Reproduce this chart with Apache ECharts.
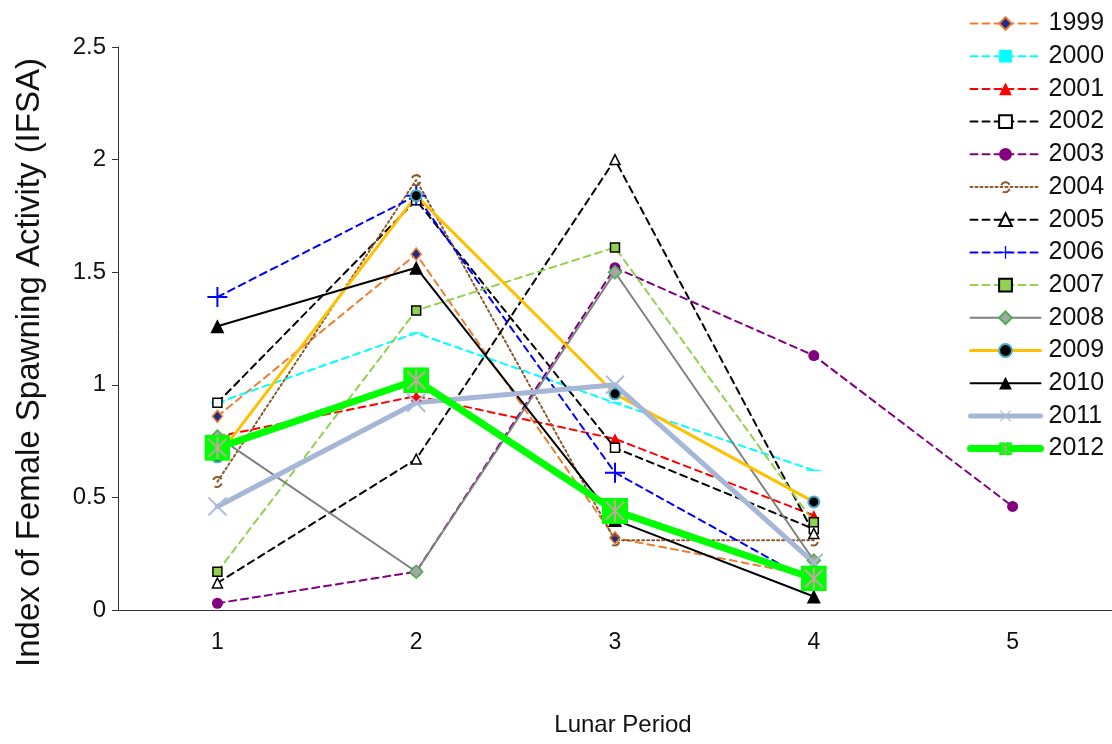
<!DOCTYPE html>
<html>
<head>
<meta charset="utf-8">
<script src="https://cdn.jsdelivr.net/npm/echarts@6/dist/echarts.min.js"></script>
<style>
  html, body { margin: 0; padding: 0; background: #fff; }
  #chart { width: 1112px; height: 744px; }
</style>
</head>
<body>
<div id="chart"></div>
<script>
// 数据
const periods = ['1', '2', '3', '4', '5']
const yTicks = [0, 0.5, 1, 1.5, 2, 2.5]
const years = ['1999', '2000', '2001', '2002', '2003', '2004', '2005',
  '2006', '2007', '2008', '2009', '2010', '2011', '2012']

const ifsa1999 = [0.86, 1.58, 0.32, 0.15, null]
const ifsa2000 = [0.92, 1.23, 0.92, 0.62, null]
const ifsa2001 = [0.77, 0.95, 0.76, 0.42, null]
const ifsa2002 = [0.92, 1.82, 0.72, 0.36, null]
const ifsa2003 = [0.03, 0.17, 1.52, 1.13, 0.46]
const ifsa2004 = [0.57, 1.91, 0.31, 0.31, null]
const ifsa2005 = [0.12, 0.67, 2.00, 0.34, null]
const ifsa2006 = [1.39, 1.84, 0.61, 0.12, null]
const ifsa2007 = [0.17, 1.33, 1.61, 0.39, null]
const ifsa2008 = [0.77, 0.17, 1.50, 0.22, null]
const ifsa2009 = [0.68, 1.84, 0.96, 0.48, null]
const ifsa2010 = [1.26, 1.52, 0.40, 0.06, null]
const ifsa2011 = [0.46, 0.92, 1.00, 0.21, null]
const ifsa2012 = [0.72, 1.02, 0.44, 0.14, null]

const values = [ifsa1999, ifsa2000, ifsa2001, ifsa2002, ifsa2003, ifsa2004, ifsa2005,
  ifsa2006, ifsa2007, ifsa2008, ifsa2009, ifsa2010, ifsa2011, ifsa2012]

// 标记图形
const svgIcon = (w, h, body) =>
  'image://data:image/svg+xml;utf8,' + encodeURIComponent(
    '<svg xmlns="http://www.w3.org/2000/svg" width="' + w + '" height="' + h +
    '" viewBox="0 0 ' + w + ' ' + h + '">' + body + '</svg>')

const swirl = svgIcon(14, 14,
  '<path d="M2.5 5 A5 5 0 0 1 11.5 4.5" fill="none" stroke="#8B5A2B" stroke-width="2.2"/>' +
  '<path d="M11.5 9 A5 5 0 0 1 4 12" fill="none" stroke="#8B5A2B" stroke-width="2.2"/>')
const cross = svgIcon(22, 22,
  '<path d="M2 2 L20 20 M20 2 L2 20" stroke="#AABBDD" stroke-width="2"/>')
const greenBox = svgIcon(26, 26,
  '<rect x="0" y="0" width="26" height="26" fill="#00FF00"/>' +
  '<path d="M13 2 V24 M4 4 L22 22 M22 4 L4 22" stroke="#C8A4A4" stroke-width="2"/>')
const plus = 'path://M9,0h2v20h-2zM0,9h20v2h-20z'
const bar = 'path://M0,0h14v4h-14z'

// 每个系列的样式
const styles = [
  { color: '#ED7D31', type: [7, 5], width: 2, symbol: 'diamond', size: [10, 12], fill: '#1F2A8C', border: '#ED7D31', bw: 1.5 },
  { color: '#00FFFF', type: [7, 5], width: 2, symbol: bar, size: [14, 4], fill: '#00FFFF' },
  { color: '#FF0000', type: [7, 5], width: 2, symbol: 'triangle', size: 11, fill: '#FF0000' },
  { color: '#000000', type: [7, 5], width: 2, symbol: 'rect', size: 9, fill: '#FFFFFF', border: '#000', bw: 1.5 },
  { color: '#800080', type: [7, 5], width: 2, symbol: 'circle', size: 11, fill: '#800080' },
  { color: '#8B5A2B', type: [2, 3], width: 2, symbol: swirl, size: 13, fill: '#8B5A2B' },
  { color: '#000000', type: [7, 5], width: 2, symbol: 'triangle', size: 10, fill: '#FFFFFF', border: '#000', bw: 1.5 },
  { color: '#0000FF', type: [7, 5], width: 2, symbol: plus, size: 20, fill: '#0000FF' },
  { color: '#92D050', type: [7, 5], width: 2, symbol: 'rect', size: 9, fill: '#92D050', border: '#000', bw: 1.5 },
  { color: '#808080', type: 'solid', width: 2, symbol: 'diamond', size: 13, fill: '#A6A6A6', border: '#4CAF50', bw: 1.5 },
  { color: '#FFC000', type: 'solid', width: 3, symbol: 'circle', size: 11, fill: '#000000', border: '#4BACC6', bw: 2 },
  { color: '#000000', type: 'solid', width: 2, symbol: 'triangle', size: 14, fill: '#000000' },
  { color: '#A6B6D6', type: 'solid', width: 5, symbol: cross, size: 22, fill: '#A6B6D6' },
  { color: '#00FF00', type: 'solid', width: 7, symbol: greenBox, size: 26, fill: '#00FF00' }
]

const series = years.map((year, i) => {
  const s = styles[i]
  return {
    name: year,
    type: 'line',
    data: values[i],
    symbol: s.symbol,
    symbolSize: s.size,
    symbolKeepAspect: true,
    showAllSymbol: true,
    connectNulls: false,
    animation: false,
    lineStyle: { color: s.color, width: s.width, type: s.type, cap: 'round' },
    itemStyle: {
      color: s.fill,
      borderColor: s.border || s.fill,
      borderWidth: s.bw || 0,
      opacity: 1
    },
    emphasis: { disabled: true }
  }
})

const legendData = years.map((year, i) => ({
  name: year,
  lineStyle: { width: styles[i].width, type: styles[i].type, color: styles[i].color, cap: 'round' }
}))

const font = 'Liberation Sans, Arial, sans-serif'

const chart = echarts.init(document.getElementById('chart'))

const option = {
  backgroundColor: '#fff',
  animation: false,
  textStyle: { fontFamily: font },
  grid: { left: 118, right: 0, top: 47, bottom: 134 },
  legend: {
    orient: 'vertical',
    left: 962,
    top: 6,
    itemWidth: 70,
    itemHeight: 16,
    itemGap: 7.7,
    data: legendData,
    textStyle: { fontFamily: font, fontSize: 25, color: '#111', lineHeight: 24, padding: [0, 0, 0, 3] }
  },
  xAxis: {
    type: 'category',
    data: periods,
    boundaryGap: true,
    axisLine: { lineStyle: { color: '#333', width: 1 } },
    axisTick: { length: 8, lineStyle: { color: '#333' } },
    axisLabel: { fontSize: 23, color: '#111', margin: 21, fontFamily: font },
    name: 'Lunar Period',
    nameLocation: 'middle',
    nameGap: 103,
    nameTextStyle: { fontSize: 24, color: '#111', fontFamily: font, padding: [0, 0, 0, 16] }
  },
  yAxis: {
    type: 'value',
    min: yTicks[0],
    max: yTicks[yTicks.length - 1],
    interval: 0.5,
    splitLine: { show: false },
    axisLine: { show: true, lineStyle: { color: '#333', width: 1 } },
    axisTick: { show: true, length: 6, lineStyle: { color: '#333' } },
    axisLabel: { fontSize: 24, color: '#111', margin: 12, fontFamily: font },
    name: 'Index of Female Spawning Activity (IFSA)',
    nameLocation: 'middle',
    nameGap: 72,
    nameTextStyle: { fontSize: 33, color: '#111', fontFamily: font, padding: [0, 68, 0, 0] }
  },
  series: series
}

chart.setOption(option)
</script>
</body>
</html>
